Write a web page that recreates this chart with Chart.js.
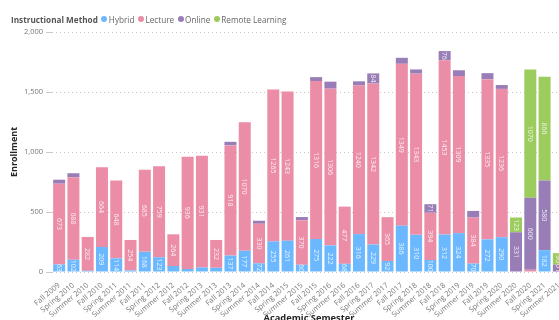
<!DOCTYPE html>
<html>
<head>
<meta charset="utf-8">
<script src="https://cdn.jsdelivr.net/npm/chart.js@4/dist/chart.umd.min.js"></script>
<style>
  html, body { margin: 0; padding: 0; background: #fff; overflow: hidden; width: 559px; height: 320px; }
  #wrap { position: relative; width: 570px; height: 330px; }
  canvas { position: absolute; left: 0; top: 0; }
  #legend { position: absolute; left: 11px; top: 13px; height: 12px; display: flex; align-items: center;
            font-family: 'Open Sans', sans-serif; font-size: 8.2px; color: #666; white-space: nowrap; }
  #legend .ttl { font-weight: bold; color: #555; margin-right: 3.5px; }
  #legend .item { display: flex; align-items: center; margin-right: 3.5px; }
  #legend .dot { width: 6px; height: 6px; border-radius: 50%; margin-right: 1.5px; }
</style>
</head>
<body>
<div id="wrap">
  <canvas id="chart" width="570" height="330"></canvas>
  <div id="legend"></div>
</div>
<script>
// Enrollment by academic semester, stacked by instructional method
const semesters = [
  'Fall 2009', 'Spring 2010', 'Summer 2010', 'Fall 2010', 'Spring 2011', 'Summer 2011',
  'Fall 2011', 'Spring 2012', 'Summer 2012', 'Fall 2012', 'Spring 2013', 'Summer 2013',
  'Fall 2013', 'Spring 2014', 'Summer 2014', 'Fall 2014', 'Spring 2015', 'Summer 2015',
  'Fall 2015', 'Spring 2016', 'Summer 2016', 'Fall 2016', 'Spring 2017', 'Summer 2017',
  'Fall 2017', 'Spring 2018', 'Summer 2018', 'Fall 2018', 'Spring 2019', 'Summer 2019',
  'Fall 2019', 'Spring 2020', 'Summer 2020', 'Fall 2020', 'Spring 2021', 'Summer 2021'
];

const hybrid = [
  63, 102, 10, 209, 114, 13,
  168, 123, 50, 25, 38, 35,
  137, 177, 72, 255, 261, 60,
  275, 222, 68, 316, 229, 92,
  386, 310, 100, 312, 324, 70,
  272, 290, null, null, 182, null
];

const lecture = [
  673, 688, 282, 664, 648, 254,
  685, 759, 264, 936, 931, 232,
  918, 1070, 330, 1265, 1243, 370,
  1316, 1306, 477, 1240, 1342, 365,
  1349, 1343, 394, 1453, 1309, 384,
  1335, 1236, null, 18, null, null
];

const online = [
  33, 33, null, null, null, null,
  null, null, null, null, null, null,
  30, null, 25, null, null, 28,
  33, 58, null, 33, 84, null,
  50, 35, 71, 76, 48, 55,
  50, 32, 331, 600, 580, 61
];

const remoteLearning = [
  null, null, null, null, null, null,
  null, null, null, null, null, null,
  null, null, null, null, null, null,
  null, null, null, null, null, null,
  null, null, null, null, null, null,
  null, null, 123, 1070, 866, 96
];

const seriesNames = ['Hybrid', 'Lecture', 'Online', 'Remote Learning'];
const seriesColors = ['#6CB8FF', '#EB8DA6', '#987DB6', '#9CCB5E'];
const seriesData = [hybrid, lecture, online, remoteLearning];

const yTickValues = [0, 500, 1000, 1500, 2000];
const legendTitle = 'Instructional Method';

// Legend row: bold title followed by coloured dots
const legendEl = document.getElementById('legend');
const ttl = document.createElement('span');
ttl.className = 'ttl';
ttl.textContent = legendTitle;
legendEl.appendChild(ttl);
seriesNames.forEach((name, i) => {
  const item = document.createElement('span');
  item.className = 'item';
  const dot = document.createElement('span');
  dot.className = 'dot';
  dot.style.background = seriesColors[i];
  const txt = document.createElement('span');
  txt.textContent = name;
  item.appendChild(dot);
  item.appendChild(txt);
  legendEl.appendChild(item);
});

// Values written vertically in the middle of each segment that is tall enough
const barLabels = {
  id: 'barLabels',
  afterDatasetsDraw(chart) {
    const ctx = chart.ctx;
    ctx.save();
    ctx.font = '7px "Open Sans"';
    ctx.fillStyle = 'rgba(255,255,255,0.82)';
    ctx.textAlign = 'center';
    ctx.textBaseline = 'middle';
    chart.data.datasets.forEach((ds, i) => {
      const meta = chart.getDatasetMeta(i);
      meta.data.forEach((bar, j) => {
        const v = ds.data[j];
        if (v == null || v < 60) return;
        const yMid = (bar.y + bar.base) / 2;
        ctx.save();
        ctx.translate(bar.x, yMid);
        ctx.rotate(Math.PI / 2);
        ctx.fillText(String(v), 0, 0.5);
        ctx.restore();
      });
    });
    ctx.restore();
  }
};

new Chart(document.getElementById('chart'), {
  type: 'bar',
  data: {
    labels: semesters,
    datasets: seriesNames.map((name, i) => ({
      label: name,
      data: seriesData[i],
      backgroundColor: seriesColors[i],
      borderWidth: 0,
      barPercentage: 0.84,
      categoryPercentage: 1.0
    }))
  },
  options: {
    responsive: false,
    animation: false,
    devicePixelRatio: 1,
    layout: { padding: { top: 32, right: 4, left: 0, bottom: 0 } },
    plugins: {
      legend: { display: false },
      tooltip: { enabled: false }
    },
    scales: {
      x: {
        stacked: true,
        grid: { display: false },
        border: { display: false },
        ticks: {
          autoSkip: false,
          minRotation: 40,
          maxRotation: 40,
          padding: 1,
          color: '#777',
          font: { family: 'Open Sans', size: 7.5 }
        },
        title: {
          display: true,
          text: 'Academic Semester',
          color: '#252423',
          font: { family: 'Open Sans', size: 9.3, weight: 'bold' },
          padding: { top: 0, bottom: 6 }
        },
        afterFit(scale) { scale.height = 58; }
      },
      y: {
        stacked: true,
        min: 0,
        max: 2000,
        afterBuildTicks(scale) { scale.ticks = yTickValues.map(v => ({ value: v })); },
        ticks: {
          padding: 3,
          color: '#777',
          font: { family: 'Open Sans', size: 7.5 },
          callback: v => v.toLocaleString('en-US')
        },
        grid: { color: '#C8C8C8', lineWidth: 1, tickLength: 6, tickColor: '#C8C8C8' },
        border: { display: false, dash: [1, 3] },
        title: {
          display: true,
          text: 'Enrollment',
          color: '#252423',
          font: { family: 'Open Sans', size: 9, weight: 'bold' },
          padding: { top: 9, bottom: 0 }
        },
        afterFit(scale) { scale.width = 52; }
      }
    }
  },
  plugins: [barLabels]
});
</script>
</body>
</html>
